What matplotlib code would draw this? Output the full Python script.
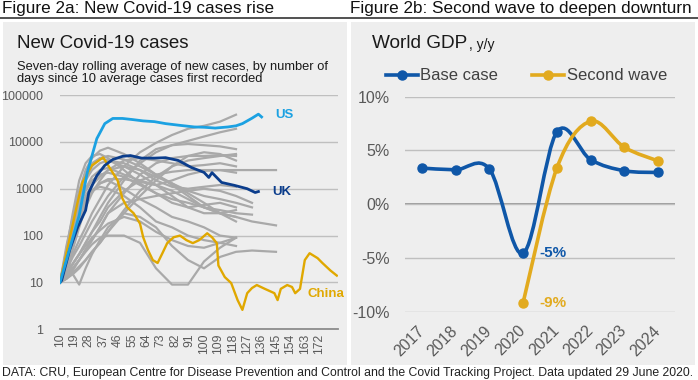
import numpy as np
import matplotlib
matplotlib.use('Agg')
import matplotlib.pyplot as plt
from matplotlib.path import Path
from matplotlib.patches import PathPatch, Rectangle
from matplotlib.lines import Line2D

plt.rcParams['font.family'] = ['Liberation Sans', 'DejaVu Sans']

n = np.nan

# ---- Figure 2a: days since 10 average cases, 7-day rolling average ----
us_days = [10, 22, 27, 33, 38, 43, 49, 55, 62, 69, 76, 85, 94, 100, 107, 115, 120, 124, 130, 134, 136]
us_vals = [10, 270, 2200, 11700, 24500, 31600, 31600, 30000, 28000, 27000, 24500, 22500, 20800, 20500,
           19700, 20800, 22000, 24500, 32000, 39000, 34000]

uk_days = [10, 11, 16, 21, 26, 28, 33, 38, 43, 49, 54, 61, 69, 76, 84, 92, 100, 103, 105, 111, 119, 127, 132, 134]
uk_vals = [10, 11, 49, 150, 345, 830, 1900, 3150, 4200, 4900, 5100, 4500, 4500, 4600, 4000, 2850, 2230,
           1740, 2200, 1360, 1180, 1000, 830, 870]

china_days = [10, 21, 24, 30, 37, 46, 49, 52, 56, 60, 62, 65, 68, 71, 74, 77, 81, 85, 89, 93, 97, 102,
              105, 108, 109, 113, 117, 121, 124, 127, 130, 133, 138, 144, 146, 148, 152, 155, 157, 160,
              163, 166, 171, 174, 179, 183]
china_vals = [10, 510, 1350, 3150, 4650, 1500, 620, 400, 300, 180, 92, 49, 30, 26, 42, 69, 92, 100, 80,
              69, 80, 112, 92, 69, 23, 13, 9.7, 4.2, 2.6, 5.9, 7.6, 8.8, 7.3, 5.9, 4.2, 7.3, 8.8, 8, 5.9,
              7.3, 30, 42, 33, 26, 18, 14]

other_days = [10, 14, 18, 22, 26, 30, 35, 40, 50, 60, 70, 80, 90, 100, 110, 120, 130, 145]
others = [
    [10, 20, 40, 80, 150, 300, 600, 1200, 3000, 6000, 9500, 14000, 19000, 22000, 27000, 38000, n, n],
    [10, 18, 35, 60, 110, 200, 380, 700, 1800, 3500, 6000, 8500, 10500, 13000, 16000, 19000, n, n],
    [10, 15, 25, 40, 70, 120, 250, 500, 1500, 4000, 7000, 8500, 9000, 8500, 8000, 7000, n, n],
    [10, 14, 20, 30, 50, 80, 150, 300, 800, 2000, 3500, 4500, 5000, 5000, 5200, 5000, n, n],
    [10, 12, 16, 22, 30, 45, 70, 120, 350, 900, 1800, 3000, 4000, 4500, 5000, 5500, n, n],
    [10, 15, 25, 40, 70, 120, 200, 400, 900, 1500, 2000, 2300, 2500, 2500, 2500, 2500, 2500, 2500],
    [10, 40, 200, 900, 2500, 4500, 6500, 7500, 5500, 3500, 2000, 1200, 700, 400, 300, 250, n, n],
    [10, 60, 250, 800, 1800, 3000, 4500, 5000, 4200, 3000, 2000, 1300, 800, 500, 300, 200, n, n],
    [10, 50, 300, 1500, 3500, 5000, 5500, 4500, 2500, 1300, 800, 500, 400, 300, 300, 350, n, n],
    [10, 40, 200, 800, 2000, 3500, 4500, 4000, 3000, 2000, 1200, 700, 400, 450, 500, 400, n, n],
    [10, 40, 150, 500, 1000, 1800, 2500, 2800, 2000, 1500, 1200, 1500, 2000, 2400, 2500, 2200, n, n],
    [10, 30, 150, 600, 1500, 2500, 3500, 4000, 3500, 2500, 1500, 1100, 1000, 1100, 1200, 1100, n, n],
    [10, 20, 60, 200, 500, 900, 1300, 1600, 1600, 1400, 1200, 900, 600, 400, 350, 300, 280, n],
    [10, 20, 60, 200, 500, 900, 1300, 1500, 1000, 600, 400, 250, 200, 150, 100, 90, n, n],
    [10, 25, 80, 250, 600, 900, 1100, 1000, 700, 400, 200, 150, 100, 80, 70, 60, n, n],
    [10, 12, 18, 30, 50, 80, 150, 300, 500, 600, 700, 800, 900, 1000, 900, 700, 500, n],
    [10, 12, 15, 20, 30, 45, 70, 120, 300, 700, 1500, 3000, 5000, 6000, 5500, 4000, n, n],
    [10, 14, 20, 30, 45, 65, 90, 100, 100, 70, 20, 9, 9, 28, 55, 90, n, n],
    [10, 15, 25, 40, 60, 90, 130, 180, 250, 200, 120, 80, 60, 55, 70, 90, n, n],
    [10, 40, 15, 9, 20, 40, 80, 150, 300, 250, 150, 60, 30, 20, 35, 45, 48, 45],
    [10, 30, 120, 400, 900, 1500, 2000, 2200, 1800, 1200, 800, 600, 500, 400, 300, 250, 200, 165],
    [10, 25, 90, 300, 700, 1200, 1800, 2500, 3000, 2500, 1800, 1300, 900, 700, 600, 500, 400, n],
    [10, 20, 50, 150, 400, 800, 1500, 2500, 4000, 4500, 4000, 3500, 3000, 3200, 3500, 3000, n, n],
]

case_ticks = list(range(10, 173, 9))
case_yticks = [1, 10, 100, 1000, 10000, 100000]

# ---- Figure 2b: World GDP y/y ----
years = [2017, 2018, 2019, 2020, 2021, 2022, 2023, 2024]
base_case = [3.36, 3.2, 3.27, -4.58, 6.73, 4.14, 3.11, 2.95]
wave_years = [2020, 2021, 2022, 2023, 2024]
second_wave = [-9.16, 3.36, 7.72, 5.29, 4.02]

US_C = '#1BA1E2'
UK_C = '#0B3D8C'
CN_C = '#E0A800'
GREY = '#A9A9A9'
BASE_C = '#0F57A8'
WAVE_C = '#E2AA1E'
TICK_C = '#595959'


def smooth_path(xs, ys):
    # Excel style smoothed line through the points (cubic bezier segments)
    pts = list(zip(xs, ys))
    verts = [pts[0]]
    codes = [Path.MOVETO]
    for i in range(len(pts) - 1):
        p0 = pts[i - 1] if i > 0 else pts[i]
        p1, p2 = pts[i], pts[i + 1]
        p3 = pts[i + 2] if i + 2 < len(pts) else p2
        c1 = (p1[0] + (p2[0] - p0[0]) / 6, p1[1] + (p2[1] - p0[1]) / 6)
        c2 = (p2[0] - (p3[0] - p1[0]) / 6, p2[1] - (p3[1] - p1[1]) / 6)
        verts += [c1, c2, p2]
        codes += [Path.CURVE4] * 3
    return Path(verts, codes)


W, H = 698, 380
fig = plt.figure(figsize=(W / 100, H / 100), dpi=100)
fig.patch.set_facecolor('white')

# grey panels
for x0, x1 in [(3, 347), (351, 695)]:
    fig.patches.append(Rectangle((x0 / W, 1 - 365 / H), (x1 - x0) / W, (365 - 22) / H,
                                 transform=fig.transFigure, facecolor='#EEEEEE', edgecolor='none', zorder=-5))
fig.add_artist(Line2D([0, 1], [1 - 17.5 / H, 1 - 17.5 / H], transform=fig.transFigure, color='#222222', lw=1.1))

fig.text(2 / W, 1 - 8 / H, 'Figure 2a: New Covid-19 cases rise', fontsize=12.3, va='center', ha='left', color='#111111')
fig.text(350 / W, 1 - 8 / H, 'Figure 2b: Second wave to deepen downturn', fontsize=12.3, va='center', ha='left', color='#111111')
fig.text(2 / W, 1 - 373 / H, 'DATA: CRU, European Centre for Disease Prevention and Control and the Covid Tracking Project. '
         'Data updated 29 June 2020.', fontsize=8.87, va='center', ha='left', color='#222222')

# ---- left chart ----
fig.text(17 / W, 1 - 43 / H, 'New Covid-19 cases', fontsize=13.5, va='center', ha='left', color='#1a1a1a')
fig.text(17 / W, 1 - 73 / H, 'Seven-day rolling average of new cases, by number of\ndays since 10 average cases first recorded',
         fontsize=9.3, va='center', ha='left', color='#1a1a1a', linespacing=1.05)

ax1 = fig.add_axes([60 / W, 1 - 329.3 / H, 278 / W, (329.3 - 95) / H])
ax1.set_zorder(2)
ax1.set_facecolor('none')
ax1.set_yscale('log')
ax1.set_ylim(1, 100000)
ax1.set_xlim(10, 183.75)
for vals in others:
    ax1.plot(other_days, vals, color=GREY, lw=1.6, zorder=2, solid_joinstyle='round')
ax1.plot(china_days, china_vals, color=CN_C, lw=1.7, zorder=3)
ax1.plot(uk_days, uk_vals, color=UK_C, lw=2.0, zorder=4)
ax1.plot(us_days, us_vals, color=US_C, lw=2.0, zorder=4)
ax1.text(144.5, 10 ** 4.58, 'US', color=US_C, fontsize=9.5, fontweight='bold', va='center', ha='left')
ax1.text(142.5, 10 ** 2.92, 'UK', color=UK_C, fontsize=9.5, fontweight='bold', va='center', ha='left')
ax1.text(164.5, 10 ** 0.75, 'China', color=CN_C, fontsize=9.5, fontweight='bold', va='center', ha='left')

ax1.set_yticks(case_yticks)
ax1.set_yticklabels([str(v) for v in case_yticks])
ax1.yaxis.set_minor_locator(matplotlib.ticker.NullLocator())
ax1.set_xticks(case_ticks)
ax1.set_xticklabels([str(d) for d in case_ticks], rotation=90)
ax1.tick_params(axis='both', length=0, colors=TICK_C, labelsize=9)
ax1.tick_params(axis='x', labelsize=8.7, pad=3)
ax1.tick_params(axis='y', pad=12)
ax1.grid(axis='y', color='#BFBFBF', lw=1.0)
for s in ['top', 'right', 'left']:
    ax1.spines[s].set_visible(False)
ax1.spines['bottom'].set_color('#8C8C8C')
ax1.spines['bottom'].set_linewidth(1.3)

# ---- right chart ----
fig.text(372 / W, 1 - 43 / H, 'World GDP', fontsize=13.7, va='center', ha='left', color='#1a1a1a')
fig.text(469 / W, 1 - 45 / H, ', y/y', fontsize=10, va='center', ha='left', color='#1a1a1a')

ax2 = fig.add_axes([405 / W, 1 - 311.7 / H, 270 / W, (311.7 - 96.7) / H])
ax2.set_zorder(2)
ax2.set_facecolor('none')
ax2.set_xlim(2016.5, 2024.5)
ax2.set_ylim(-10, 10)
ax2.add_patch(PathPatch(smooth_path(years, base_case), fill=False, edgecolor=BASE_C, lw=2.6, zorder=3,
                        capstyle='round', joinstyle='round'))
ax2.add_patch(PathPatch(smooth_path(wave_years, second_wave), fill=False, edgecolor=WAVE_C, lw=2.6, zorder=3,
                        capstyle='round', joinstyle='round'))
ax2.plot(years, base_case, 'o', color=BASE_C, ms=6.5, zorder=4)
ax2.plot(wave_years, second_wave, 'o', color=WAVE_C, ms=6.5, zorder=4)
ax2.annotate('-5%', (2020, base_case[3]), xytext=(12, 0), textcoords='offset points', color=BASE_C,
             fontsize=11, fontweight='bold', va='center', ha='left')
ax2.annotate('-9%', (2020, second_wave[0]), xytext=(12, 0), textcoords='offset points', color=WAVE_C,
             fontsize=11, fontweight='bold', va='center', ha='left')

ax2.set_yticks([-10, -5, 0, 5, 10])
ax2.set_yticklabels(['-10%', '-5%', '0%', '5%', '10%'])
ax2.set_xticks(years)
ax2.set_xticklabels([str(y) for y in years], rotation=45, ha='right', va='center', rotation_mode='anchor')
ax2.tick_params(axis='both', length=0, colors=TICK_C, labelsize=11.5)
ax2.tick_params(axis='y', pad=11)
ax2.tick_params(axis='x', pad=12)
ax2.grid(axis='y', color='#BFBFBF', lw=1.0)
ax2.axhline(0, color='#8C8C8C', lw=1.2, zorder=1)
for s in ax2.spines.values():
    s.set_visible(False)

handles = [Line2D([], [], color=BASE_C, lw=2.6, marker='o', ms=6.5),
           Line2D([], [], color=WAVE_C, lw=2.6, marker='o', ms=6.5)]
leg = fig.legend(handles, ['Base case', 'Second wave'], loc='center left', bbox_to_anchor=(386 / W, 1 - 76 / H),
                 ncol=2, frameon=False, fontsize=12, handlelength=1.9, handletextpad=0.15, columnspacing=2.06,
                 numpoints=1, borderaxespad=0, borderpad=0)
for t in leg.get_texts():
    t.set_color('#404040')

fig.savefig('out.png', dpi=100)
